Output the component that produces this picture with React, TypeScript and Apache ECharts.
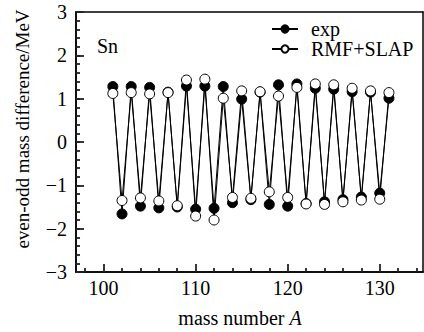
import React, { useEffect, useRef } from "react";
import * as echarts from "echarts";

const massNumbers = [101,102,103,104,105,106,107,108,109,110,111,112,113,114,115,116,117,118,119,120,121,122,123,124,125,126,127,128,129,130,131];
const expValues = [1.28,-1.66,1.28,-1.48,1.26,-1.52,1.15,-1.50,1.29,-1.55,1.29,-1.53,1.28,-1.40,0.99,-1.33,1.15,-1.44,1.32,-1.48,1.34,-1.42,1.24,-1.38,1.22,-1.33,1.16,-1.27,1.15,-1.18,1.01];
const rmfValues = [1.12,-1.35,1.14,-1.29,1.11,-1.36,1.14,-1.47,1.43,-1.71,1.45,-1.80,1.01,-1.28,1.18,-1.30,1.16,-1.15,1.06,-1.28,1.26,-1.43,1.34,-1.44,1.32,-1.38,1.24,-1.34,1.18,-1.32,1.14];
const xMajorTicks = [100, 110, 120, 130];
const xMinorTicks = [98,102,104,106,108,112,114,116,118,122,124,126,128,132,134];

const FONT = "Liberation Serif";
const FS = 20;
const TICK = "#222222";

export default function App() {
  const ref = useRef<HTMLDivElement>(null);
  useEffect(() => {
    if (!ref.current) return;
    const chart = echarts.init(ref.current, null, { renderer: "svg" });
    const xCommon = {
      type: "value",
      min: 97,
      max: 134.7,
      position: "bottom",
      splitLine: { show: false },
      axisLine: { show: true, onZero: false, lineStyle: { color: "#000", width: 1.5 } },
    };
    const yCommon = {
      type: "value",
      min: -3,
      max: 3,
      position: "left",
      splitLine: { show: false },
      axisLine: { show: true, onZero: false, lineStyle: { color: "#000", width: 1.5 } },
    };
    chart.setOption({
      animation: false,
      backgroundColor: "#fff",
      grid: { left: 76, right: 1, top: 12, bottom: 60, show: false, containLabel: false },
      legend: {
        show: true,
        orient: "vertical",
        left: 271,
        top: 19,
        itemWidth: 26,
        itemHeight: 9,
        itemGap: 0,
        padding: 0,
        textStyle: { fontFamily: FONT, fontSize: FS, color: "#000", padding: [0, 0, 0, 8] },
        data: ["exp", "RMF+SLAP"],
      },
      xAxis: [
        {
          ...xCommon,
          axisTick: { show: true, inside: true, length: 8, customValues: xMajorTicks, lineStyle: { color: TICK, width: 1.8 } },
          axisLabel: { show: true, customValues: xMajorTicks, margin: 6, fontFamily: FONT, fontSize: FS, color: "#000" },
        },
        {
          ...xCommon,
          axisTick: { show: true, inside: true, length: 4, customValues: xMinorTicks, lineStyle: { color: TICK, width: 1.8 } },
          axisLabel: { show: false },
        },
        {
          ...xCommon,
          position: "top",
          axisTick: { show: false },
          axisLabel: { show: false },
        },
      ],
      yAxis: [
        {
          ...yCommon,
          interval: 1,
          axisTick: { show: true, inside: true, length: 8, lineStyle: { color: TICK, width: 1.8 } },
          axisLabel: {
            margin: 9,
            fontFamily: FONT,
            fontSize: FS,
            color: "#000",
            formatter: (v: number) => (v < 0 ? "\u2212" + Math.abs(v) : String(v)),
          },
        },
        {
          ...yCommon,
          interval: 0.2,
          axisTick: { show: true, inside: true, length: 4, lineStyle: { color: TICK, width: 1.8 } },
          axisLabel: { show: false },
        },
        {
          ...yCommon,
          position: "right",
          axisTick: { show: false },
          axisLabel: { show: false },
        },
      ],
      graphic: [
        {
          type: "text",
          x: 22,
          y: 129,
          rotation: Math.PI / 2,
          style: { text: "even-odd mass difference/MeV", fontFamily: FONT, fontSize: 19, fill: "#000", align: "center", verticalAlign: "middle" },
        },
        {
          type: "text",
          x: 240,
          y: 318,
          style: {
            text: "{n|mass number }{i|A}",
            align: "center",
            verticalAlign: "middle",
            rich: {
              n: { fontFamily: FONT, fontSize: FS, fill: "#000", color: "#000" },
              i: { fontFamily: FONT, fontSize: FS, fontStyle: "italic", fill: "#000", color: "#000" },
            },
          },
        },
        {
          type: "text",
          x: 97,
          y: 46,
          style: { text: "Sn", fontFamily: FONT, fontSize: FS, fill: "#000", verticalAlign: "middle" },
        },
      ],
      series: [
        {
          name: "exp",
          type: "line",
          xAxisIndex: 0,
          yAxisIndex: 0,
          data: massNumbers.map((a, i) => [a, expValues[i]]),
          symbol: "circle",
          symbolSize: 10,
          lineStyle: { color: "#000", width: 1 },
          itemStyle: { color: "#000", borderColor: "#000", borderWidth: 1 },
        },
        {
          name: "RMF+SLAP",
          type: "line",
          xAxisIndex: 0,
          yAxisIndex: 0,
          data: massNumbers.map((a, i) => [a, rmfValues[i]]),
          symbol: "circle",
          symbolSize: 10,
          lineStyle: { color: "#000", width: 1 },
          itemStyle: { color: "#fff", borderColor: "#000", borderWidth: 1 },
        },
      ],
    });
    return () => chart.dispose();
  }, []);
  return <div ref={ref} style={{ position: "fixed", left: 0, top: 0, width: 424, height: 332 }} />;
}
